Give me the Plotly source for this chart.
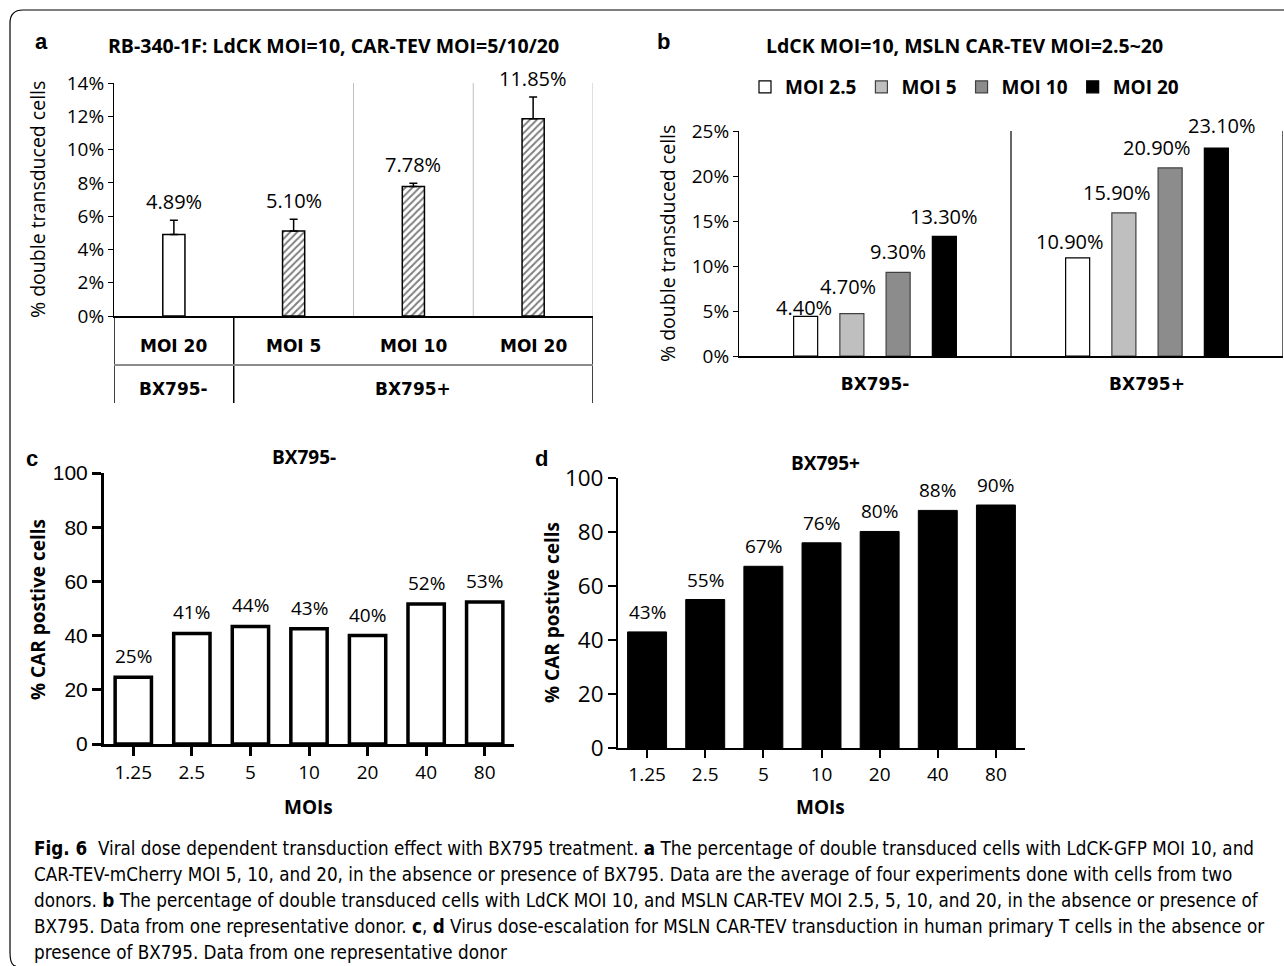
import plotly.graph_objects as go

W, H = 1284, 966
def fx(p): return p / W
def fy(p): return 1 - p / H

# ---------------- data ----------------
# Panel a
a_moi = ["MOI 20", "MOI 5", "MOI 10", "MOI 20"]
a_group = ["BX795-", "BX795+", "BX795+", "BX795+"]
a_vals = [4.89, 5.10, 7.78, 11.85]
a_err = [0.87, 0.72, 0.19, 1.31]
a_labels = ["4.89%", "5.10%", "7.78%", "11.85%"]
a_pattern = ["", "/", "/", "/"]

# Panel b
b_cats = ["BX795-", "BX795+"]
b_series = ["MOI 2.5", "MOI 5", "MOI 10", "MOI 20"]
b_vals = {
    "MOI 2.5": [4.40, 10.90],
    "MOI 5": [4.70, 15.90],
    "MOI 10": [9.30, 20.90],
    "MOI 20": [13.30, 23.10],
}
b_colors = ["#ffffff", "#bfbfbf", "#8c8c8c", "#000000"]
# label nudges in pixels, per series / category (style only)
b_lift = {"MOI 2.5": [-7, 1], "MOI 5": [12, 5], "MOI 10": [5, 5], "MOI 20": [4, 7]}
b_shift = {"MOI 2.5": [-2, -8], "MOI 5": [-4, -7], "MOI 10": [0, -13], "MOI 20": [0, 6]}

# Panel c / d
moi_ticks = ["1.25", "2.5", "5", "10", "20", "40", "80"]
c_vals = [24.6, 40.8, 43.4, 42.5, 40.0, 51.7, 52.4]
c_labels = ["25%", "41%", "44%", "43%", "40%", "52%", "53%"]
d_vals = [43.0, 55.0, 67.3, 76.0, 80.2, 88.0, 90.0]
d_labels = ["43%", "55%", "67%", "76%", "80%", "88%", "90%"]

FONT = "Open Sans, Noto Sans, sans-serif"
ARIAL = "Liberation Sans, Arial, sans-serif"
WIDE = "DejaVu Sans, sans-serif"
NARROW = "Liberation Sans Narrow, DejaVu Sans Condensed, sans-serif"

fig = go.Figure()
annotations = []
shapes = []

def lab(x, y, text, size, xref, yref, yshift=0, family=FONT, **kw):
    d = dict(x=x, y=y, xref=xref, yref=yref, text=text, showarrow=False,
             xanchor="center", yanchor="bottom", yshift=yshift,
             font=dict(family=family, size=size, color="black"))
    d.update(kw)
    annotations.append(d)

# ---------------- panel a ----------------
a_x = list(range(len(a_vals)))
fig.add_trace(go.Bar(
    x=a_x, y=a_vals, xaxis="x", yaxis="y", width=0.185,
    marker=dict(color="white", line=dict(color="black", width=1.5),
                pattern=dict(shape=a_pattern, fgcolor="black", bgcolor="white",
                             size=5, solidity=0.4)),
    error_y=dict(type="data", symmetric=False, array=a_err,
                 arrayminus=[0] * len(a_err), color="black", thickness=1.5, width=4),
    showlegend=False, hoverinfo="skip"))

for i, (v, e, t) in enumerate(zip(a_vals, a_err, a_labels)):
    lab(i, v + e, t, 20, "x", "y", yshift=3)

# table labels
for i, t in enumerate(a_moi):
    lab(i, fy(346), "<b>%s</b>" % t, 17, "x", "paper", family=WIDE, yanchor="middle")
groups = []
for g in a_group:
    if g not in groups:
        groups.append(g)
for g in groups:
    idx = [i for i, gg in enumerate(a_group) if gg == g]
    lab(sum(idx) / len(idx), fy(389), "<b>%s</b>" % g, 17, "x", "paper", family=WIDE, yanchor="middle")
# gray separators above axis
for b in [1.5, 2.5, 3.5]:
    shapes.append(dict(type="line", xref="x", yref="y", x0=b, x1=b, y0=0, y1=14,
                       line=dict(color="#bfbfbf", width=1)))
# table verticals
for b in [-0.5, 0.5, 3.5]:
    shapes.append(dict(type="line", xref="x", yref="paper", x0=b, x1=b, y0=fy(316), y1=fy(403),
                       line=dict(color="black", width=1.5)))
shapes.append(dict(type="line", xref="x", yref="paper", x0=-0.5, x1=3.5, y0=fy(365), y1=fy(365),
                   line=dict(color="#8c8c8c", width=2)))

# ---------------- panel b ----------------
BGAP = 0.32
n = len(b_series)
slot = (1 - BGAP) / n
for k, (s, col) in enumerate(zip(b_series, b_colors)):
    fig.add_trace(go.Bar(
        x=b_cats, y=b_vals[s], name=s, xaxis="x2", yaxis="y2",
        marker=dict(color=col, line=dict(color="black" if col in ("#ffffff", "#000000") else "#404040", width=1.2)),
        hoverinfo="skip"))
    off = -(1 - BGAP) / 2 + slot * (k + 0.5)
    for j, v in enumerate(b_vals[s]):
        lab(j + off, v, "%.2f%%" % v, 20, "x2", "y2", yshift=b_lift[s][j], xshift=b_shift[s][j])
for b in [0.5, 1.5]:
    shapes.append(dict(type="line", xref="x2", yref="y2", x0=b, x1=b, y0=0, y1=25,
                       line=dict(color="black", width=1.2)))

# ---------------- panel c ----------------
fig.add_trace(go.Bar(
    x=moi_ticks, y=c_vals, xaxis="x3", yaxis="y3", width=0.62,
    marker=dict(color="white", line=dict(color="black", width=3.5)),
    showlegend=False, hoverinfo="skip"))
for j, (v, t) in enumerate(zip(c_vals, c_labels)):
    lab(j, v, t, 19, "x3", "y3", yshift=6)

# ---------------- panel d ----------------
fig.add_trace(go.Bar(
    x=moi_ticks, y=d_vals, xaxis="x4", yaxis="y4", width=0.67,
    marker=dict(color="black", line=dict(color="black", width=1)),
    showlegend=False, hoverinfo="skip"))
for j, (v, t) in enumerate(zip(d_vals, d_labels)):
    lab(j, v, t, 19, "x4", "y4", yshift=5)

# ---------------- text: panel letters, titles ----------------
def ann(x, y, text, size, family=FONT, **kw):
    d = dict(x=fx(x), y=fy(y), xref="paper", yref="paper", text=text, showarrow=False,
             xanchor="center", yanchor="middle",
             font=dict(family=family, size=size, color="black"))
    d.update(kw)
    annotations.append(d)

ann(42, 42, "<b>a</b>", 22, ARIAL)
ann(663, 42, "<b>b</b>", 22, ARIAL)
ann(32, 458, "<b>c</b>", 22, ARIAL)
ann(541, 458, "<b>d</b>", 22, ARIAL)
ann(333, 45, "<b>RB-340-1F: LdCK MOI=10, CAR-TEV MOI=5/10/20</b>", 19.5)
ann(965, 45, "<b>LdCK MOI=10, MSLN CAR-TEV MOI=2.5~20</b>", 19.5)
ann(304, 457, "<b>BX795-</b>", 19)
ann(825, 463, "<b>BX795+</b>", 19)
ann(308, 807, "<b>MOIs</b>", 19)
ann(820, 807, "<b>MOIs</b>", 19)
ann(38, 610, "<b>% CAR postive cells</b>", 19, textangle=-90)
ann(552, 613, "<b>% CAR postive cells</b>", 19, textangle=-90)
ann(38, 200, "% double transduced cells", 19.5, textangle=-90)
ann(668, 243, "% double transduced cells", 19.5, textangle=-90)

caption = [
    "<b>Fig. 6</b>  Viral dose dependent transduction effect with BX795 treatment. <b>a</b> The percentage of double transduced cells with LdCK-GFP MOI 10, and",
    "CAR-TEV-mCherry MOI 5, 10, and 20, in the absence or presence of BX795. Data are the average of four experiments done with cells from two",
    "donors. <b>b</b> The percentage of double transduced cells with LdCK MOI 10, and MSLN CAR-TEV MOI 2.5, 5, 10, and 20, in the absence or presence of",
    "BX795. Data from one representative donor. <b>c</b>, <b>d</b> Virus dose-escalation for MSLN CAR-TEV transduction in human primary T cells in the absence or",
    "presence of BX795. Data from one representative donor",
]
for k, line in enumerate(caption):
    ann(32, 848 + 26 * k, line, 18.7, NARROW, xanchor="left")

# frame
def P(x, y):
    return "%f,%f" % (fx(x), fy(y))
frame_path = ("M " + P(1284, 10) + " L " + P(23, 10) + " Q " + P(10, 10) + " " + P(10, 23) +
              " L " + P(10, 952) + " Q " + P(10, 966) + " " + P(16, 966))
shapes.append(dict(type="path", xref="paper", yref="paper", path=frame_path,
                   line=dict(color="black", width=1.2)))

axis_common = dict(showgrid=False, zeroline=False, showline=True, linecolor="black", automargin=False)

fig.update_layout(
    width=W, height=H, margin=dict(l=0, r=0, t=0, b=0, autoexpand=False),
    paper_bgcolor="white", plot_bgcolor="rgba(0,0,0,0)",
    barmode="group", bargap=BGAP, bargroupgap=0.48,
    font=dict(family=FONT, color="black"),
    showlegend=True,
    legend=dict(orientation="h", x=fx(745), y=fy(87), xanchor="left", yanchor="middle",
                font=dict(family=FONT, size=19, color="black", weight="bold"), traceorder="normal",
                itemwidth=30, bgcolor="rgba(0,0,0,0)"),
    xaxis=dict(domain=[fx(114), fx(593)], range=[-0.5, 3.5], showticklabels=False,
               ticks="", **axis_common, linewidth=1.5, anchor="y"),
    yaxis=dict(domain=[fy(316), fy(83)], range=[0, 14], dtick=2, ticksuffix="%",
               ticks="outside", ticklen=5, tickcolor="black",
               tickfont=dict(family=FONT, size=19), **axis_common, linewidth=1.2, anchor="x"),
    xaxis2=dict(domain=[fx(739), fx(1283)], range=[-0.5, 1.5], type="category",
                ticks="outside", ticklen=12, tickcolor="rgba(0,0,0,0)",
                tickfont=dict(family=WIDE, size=17, weight="bold"), **axis_common, linewidth=1.5, anchor="y2"),
    yaxis2=dict(domain=[fy(356), fy(131)], range=[0, 25], dtick=5, ticksuffix="%",
                ticks="outside", ticklen=5, tickcolor="black",
                tickfont=dict(family=FONT, size=19), **axis_common, linewidth=1.2, anchor="x2"),
    xaxis3=dict(domain=[fx(104), fx(514)], type="category", ticks="outside", ticklen=9,
                tickwidth=2.5, tickcolor="black", tickfont=dict(family=FONT, size=19),
                **axis_common, linewidth=3, anchor="y3"),
    yaxis3=dict(domain=[fy(744), fy(473)], range=[0, 100], dtick=20, ticks="outside",
                ticklen=9, tickwidth=2.5, tickcolor="black",
                tickfont=dict(family=ARIAL, size=21), **axis_common, linewidth=3, anchor="x3"),
    xaxis4=dict(domain=[fx(618), fx(1025)], type="category", ticks="outside", ticklen=8,
                tickwidth=2, tickcolor="black", tickfont=dict(family=FONT, size=19),
                **axis_common, linewidth=2, anchor="y4"),
    yaxis4=dict(domain=[fy(748), fy(478)], range=[0, 100], dtick=20, ticks="outside",
                ticklen=8, tickwidth=2, tickcolor="black",
                tickfont=dict(family=FONT, size=22.5), **axis_common, linewidth=2, anchor="x4"),
    annotations=annotations, shapes=shapes,
)

fig.write_html("out.html", config={"displayModeBar": False},
               post_script="document.body.style.margin='0';document.body.style.overflow='hidden';")
